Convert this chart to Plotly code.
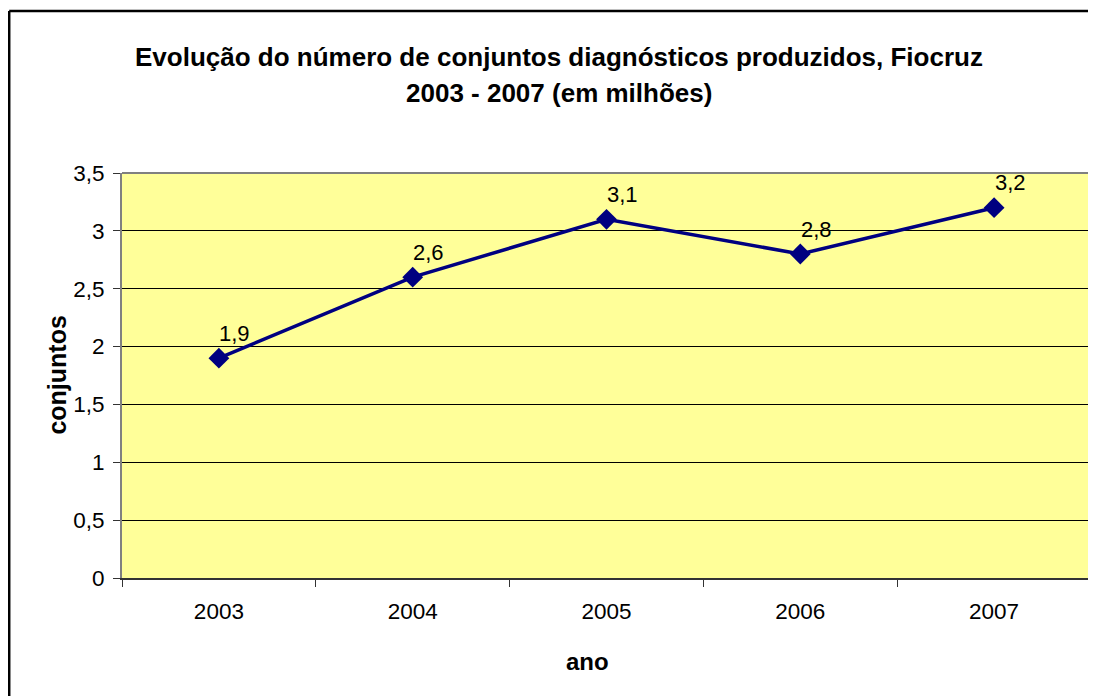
import plotly.graph_objects as go

anos = ["2003", "2004", "2005", "2006", "2007"]
conjuntos = [1.9, 2.6, 3.1, 2.8, 3.2]
y_ticks = [0, 0.5, 1, 1.5, 2, 2.5, 3, 3.5]

titulo_1 = "Evolução do número de conjuntos diagnósticos produzidos, Fiocruz"
titulo_2 = "2003 - 2007 (em milhões)"

FONT = "Liberation Sans, Arial, sans-serif"
NAVY = "#000080"

fig = go.Figure()

fig.add_trace(go.Scatter(
    x=anos,
    y=conjuntos,
    mode="lines+markers",
    line=dict(color=NAVY, width=3.5),
    marker=dict(symbol="diamond", size=16, color=NAVY),
    hoverinfo="x+y",
))

# Data labels, placed above and slightly right of each marker
# (annotation x on a category axis is the category index)
for i, v in enumerate(conjuntos):
    fig.add_annotation(
        x=i, y=v, text=f"{v:.1f}".replace(".", ","),
        showarrow=False, xshift=16, yshift=25,
        font=dict(family=FONT, size=22, color="black"),
    )

# Two-line title
fig.add_annotation(x=0.451, y=1.286, xref="paper", yref="paper", text=f"<b>{titulo_1}</b>",
                   xanchor="center", yanchor="middle",
                   showarrow=False, font=dict(family=FONT, size=26, color="black"))
fig.add_annotation(x=0.451, y=1.197, xref="paper", yref="paper", text=f"<b>{titulo_2}</b>",
                   xanchor="center", yanchor="middle",
                   showarrow=False, font=dict(family=FONT, size=26, color="black"))

# Axis titles
fig.add_annotation(x=0.48, y=-0.205, xref="paper", yref="paper", text="<b>ano</b>",
                   xanchor="center", yanchor="middle",
                   showarrow=False, font=dict(family=FONT, size=24, color="black"))
fig.add_annotation(x=-0.068, y=0.5, xref="paper", yref="paper", text="<b>conjuntos</b>",
                   xanchor="center", yanchor="middle",
                   textangle=-90, showarrow=False, font=dict(family=FONT, size=25, color="black"))

# Plot area top border and outer chart frame (cropped at right/bottom)
fig.add_shape(type="line", xref="paper", yref="paper", x0=0, x1=1, y0=1, y1=1,
              line=dict(color="#808080", width=2), layer="above")
fig.add_shape(type="line", xref="paper", yref="paper", x0=-0.1164, x1=1.02, y0=1.4, y1=1.4,
              line=dict(color="black", width=2.5))
fig.add_shape(type="line", xref="paper", yref="paper", x0=-0.1164, x1=-0.1164, y0=1.4, y1=-0.35,
              line=dict(color="black", width=2.5))

fig.update_xaxes(
    type="category",
    range=[-0.5, len(anos) - 0.5],
    showgrid=False,
    showline=True, linecolor="#333333", linewidth=2,
    ticks="outside", tickson="boundaries", ticklen=7, tickcolor="#333333",
    ticklabelstandoff=12,
    tickangle=0,
    tickfont=dict(family=FONT, size=22.5, color="black"),
)

fig.update_yaxes(
    range=[0, 3.5],
    tickvals=y_ticks,
    showgrid=True, gridcolor="black", gridwidth=1,
    zeroline=False,
    showline=True, linecolor="#808080", linewidth=2, mirror=True,
    ticks="outside", ticklen=7, tickcolor="#333333",
    ticklabelstandoff=4,
    tickfont=dict(family=FONT, size=22.5, color="black"),
)

# The page body adds an 8px offset, so the figure is 8px smaller each way
fig.update_layout(
    width=1088,
    height=688,
    margin=dict(l=114, r=3, t=165, b=118),
    plot_bgcolor="#FFFF99",
    paper_bgcolor="white",
    separators=",.",
    showlegend=False,
)

fig.write_html("out.html")
